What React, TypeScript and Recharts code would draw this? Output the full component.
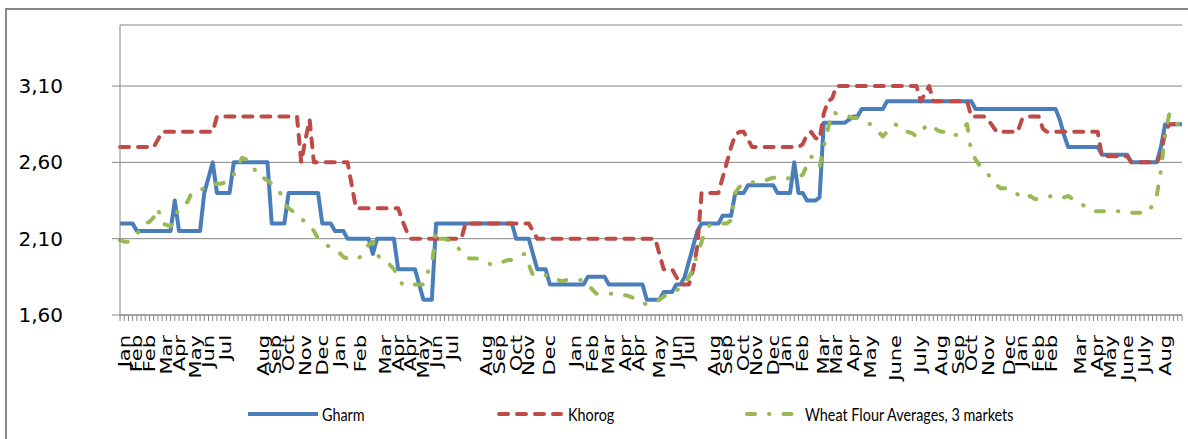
import React from "react";
import { LineChart, Line, XAxis, YAxis, CartesianGrid } from "recharts";

// Gharm weekly price, as [value, number of weeks at that value]
const gharmRuns: [number, number][] = [
  [2.2, 4], [2.15, 9], [2.35, 1], [2.15, 6], [2.4, 1], [2.5, 1], [2.6, 1], [2.4, 4],
  [2.6, 9], [2.2, 4], [2.4, 8], [2.2, 3], [2.15, 3], [2.1, 6], [2.0, 1], [2.1, 5],
  [1.9, 5], [1.8, 1], [1.7, 3], [2.2, 19], [2.1, 4], [2.0, 1], [1.9, 3], [1.8, 9],
  [1.85, 5], [1.8, 9], [1.7, 4], [1.75, 3], [1.8, 2], [1.85, 1], [1.95, 1], [2.05, 1],
  [2.15, 1], [2.2, 5], [2.25, 3], [2.4, 3], [2.45, 7], [2.4, 4], [2.6, 1], [2.4, 2],
  [2.35, 3], [2.37, 1], [2.86, 6], [2.88, 1], [2.9, 2], [2.95, 6], [3.0, 21], [2.95, 20],
  [2.88, 1], [2.78, 1], [2.7, 8], [2.65, 7], [2.6, 7], [2.7, 1], [2.85, 5],
];

// Khorog weekly price, as [value, number of weeks at that value]
const khorogRuns: [number, number][] = [
  [2.7, 9], [2.75, 1], [2.8, 13], [2.9, 20], [2.6, 1], [2.75, 1], [2.88, 1], [2.6, 9],
  [2.45, 1], [2.3, 11], [2.22, 1], [2.15, 1], [2.1, 13], [2.2, 16], [2.15, 1], [2.1, 29],
  [2.0, 1], [1.9, 3], [1.85, 1], [1.8, 3], [1.9, 1], [2.05, 1], [2.4, 5], [2.5, 1],
  [2.6, 1], [2.7, 1], [2.78, 1], [2.8, 2], [2.75, 1], [2.7, 12], [2.72, 1], [2.78, 1],
  [2.8, 1], [2.76, 1], [2.75, 1], [2.92, 1], [3.0, 1], [3.02, 1], [3.1, 20], [3.0, 1],
  [3.05, 1], [3.1, 1], [3.0, 9], [2.9, 4], [2.88, 1], [2.84, 1], [2.8, 6], [2.88, 1],
  [2.9, 4], [2.82, 1], [2.8, 13], [2.64, 7], [2.6, 7], [2.65, 1], [2.8, 1], [2.85, 4],
];

// Wheat flour average of 3 markets, weekly
const wheatFlour: number[] = [
  2.09, 2.08, 2.08, 2.1, 2.13, 2.17, 2.2, 2.21, 2.24, 2.3,
  2.2, 2.19, 2.18, 2.24, 2.3, 2.33, 2.34, 2.4, 2.41, 2.42,
  2.43, 2.44, 2.45, 2.46, 2.46, 2.47, 2.48, 2.52, 2.58, 2.63,
  2.62, 2.6, 2.55, 2.5, 2.5, 2.48, 2.46, 2.44, 2.4, 2.33,
  2.3, 2.28, 2.26, 2.23, 2.21, 2.19, 2.15, 2.1, 2.08, 2.06,
  2.04, 2.03, 2.01, 1.98, 1.97, 1.96, 1.97, 1.98, 2.02, 2.06,
  2.08, 2.0, 1.96, 1.95, 1.93, 1.9, 1.85, 1.8, 1.79, 1.79,
  1.8, 1.8, 1.8, 1.88, 1.93, 2.15, 2.1, 2.1, 2.09, 2.08,
  2.05, 2.01, 1.98, 1.97, 1.97, 1.97, 1.96, 1.95, 1.93, 1.93,
  1.94, 1.95, 1.96, 1.96, 1.97, 1.99, 2.0, 1.93, 1.86, 1.86,
  1.86, 1.86, 1.86, 1.85, 1.83, 1.82, 1.83, 1.83, 1.83, 1.83,
  1.83, 1.8, 1.77, 1.74, 1.74, 1.74, 1.74, 1.74, 1.73, 1.73,
  1.73, 1.72, 1.71, 1.7, 1.68, 1.67, 1.67, 1.68, 1.7, 1.72,
  1.74, 1.75, 1.76, 1.78, 1.81, 1.85, 1.9, 2.0, 2.08, 2.16,
  2.19, 2.2, 2.2, 2.2, 2.2, 2.22, 2.4, 2.44, 2.46, 2.47,
  2.47, 2.47, 2.48, 2.48, 2.49, 2.5, 2.5, 2.49, 2.49, 2.5,
  2.5, 2.5, 2.52, 2.58, 2.64, 2.6, 2.57, 2.7, 2.82, 2.93,
  2.92, 2.92, 2.91, 2.9, 2.89, 2.89, 2.88, 2.87, 2.85, 2.82,
  2.8, 2.77, 2.8, 2.83, 2.85, 2.82, 2.8, 2.8, 2.79, 2.77,
  2.8, 2.83, 2.85, 2.83, 2.81, 2.8, 2.8, 2.78, 2.77, 2.8,
  2.83, 2.85, 2.67, 2.62, 2.58, 2.55, 2.52, 2.49, 2.45, 2.43,
  2.43, 2.43, 2.41, 2.39, 2.37, 2.36, 2.38, 2.36, 2.36, 2.37,
  2.37, 2.38, 2.38, 2.38, 2.37, 2.38, 2.36, 2.34, 2.33, 2.31,
  2.29, 2.28, 2.28, 2.28, 2.28, 2.28, 2.28, 2.28, 2.28, 2.27,
  2.27, 2.27, 2.27, 2.27, 2.27, 2.32, 2.38, 2.55, 2.78, 2.92,
  2.88, 2.85, 2.85,
];

// Month labels on the category axis: [week index, label]
const monthTicks: [number, string][] = [
  [1, "Jan"], [4, "Feb"], [7, "Feb"], [11, "Mar"], [14, "Apr"], [18, "May"], [21, "Jun"],
  [25, "Jul"], [34, "Aug"], [37, "Sep"], [40, "Oct"], [44, "Nov"], [48, "Dec"],
  [52, "Jan"], [57, "Feb"], [63, "Mar"], [66, "Apr"], [69, "Apr"], [72, "May"], [75, "Jun"],
  [79, "Jul"], [87, "Aug"], [90, "Sep"], [94, "Oct"], [97, "Nov"], [102, "Dec"],
  [108, "Jan"], [112, "Feb"], [116, "Mar"], [120, "Apr"], [123, "Apr"], [128, "May"],
  [132, "Jun"], [135, "Jul"], [141, "Aug"], [144, "Sep"], [148, "Oct"], [151, "Nov"],
  [155, "Dec"], [158, "Jan"], [162, "Feb"], [167, "Mar"], [170, "Mar"], [174, "Apr"],
  [178, "May"], [184, "June"], [190, "July"], [195, "Aug"], [199, "Sep"], [202, "Oct"],
  [206, "Nov"], [211, "Dec"], [214, "Jan"], [218, "Feb"], [221, "Feb"], [228, "Mar"],
  [232, "Apr"], [235, "May"], [239, "June"], [243, "July"], [248, "Aug"],
];

const yTicks = [1.6, 2.1, 2.6, 3.1];
const seriesNames = ["Gharm", "Khorog", "Wheat Flour Averages, 3 markets"];

const expand = (runs: [number, number][]) => {
  const out: number[] = [];
  runs.forEach(([v, n]) => {
    for (let k = 0; k < n; k++) out.push(v);
  });
  return out;
};
const gharm = expand(gharmRuns);
const khorog = expand(khorogRuns);
const labelByIndex = new Map<number, string>(monthTicks);
const data = wheatFlour.map((w, i) => ({ i, gharm: gharm[i], khorog: khorog[i], wheat: w }));

const AXIS = "#868686";
const BLUE = "#4A7EBB";
const RED = "#BE4B48";
const GREEN = "#98B954";
const RED_DASH = "9 9";
const GREEN_DASH = "8 14 0.5 14";

const MonthTick = (props: any) => {
  const { x, y, payload } = props;
  const t = labelByIndex.get(payload.value);
  if (!t) return <g />;
  return (
    <text
      transform={`translate(${x},${y + 12}) rotate(-90) scale(1, 0.75)`}
      textAnchor="end"
      dominantBaseline="central"
      fontFamily="DejaVu Sans"
      fontSize={21}
      fill="#000"
    >
      {t}
    </text>
  );
};

const PriceTick = (props: any) => {
  const { x, y, payload } = props;
  return (
    <text
      x={x - 47}
      y={y}
      textAnchor="end"
      dominantBaseline="central"
      fontFamily="DejaVu Sans"
      fontSize={20}
      fill="#000"
    >
      {Number(payload.value).toFixed(2).replace(".", ",")}
    </text>
  );
};

const LegendLabel = ({ x, text }: { x: number; text: string }) => (
  <text
    transform={`translate(${x},19) scale(0.8,1)`}
    dominantBaseline="central"
    fontFamily="Lato"
    fontSize={18}
    fill="#000"
  >
    {text}
  </text>
);

export default function App() {
  return (
    <div
      style={{
        position: "absolute",
        left: 0,
        top: 0,
        width: 1188,
        height: 439,
        overflow: "hidden",
        background: "#fff",
      }}
    >
      <div
        style={{
          position: "absolute",
          left: 5,
          top: 8,
          width: 1300,
          height: 500,
          border: `2px solid ${AXIS}`,
        }}
      />
      <div style={{ position: "absolute", left: 0, top: 0 }}>
        <LineChart
          width={1188}
          height={439}
          data={data}
          margin={{ top: 25, right: 6, bottom: 44, left: 8 }}
        >
          <CartesianGrid vertical={false} stroke={AXIS} strokeWidth={1} />
          <XAxis
            dataKey="i"
            type="category"
            interval={0}
            tickSize={6}
            height={80}
            axisLine={{ stroke: AXIS }}
            tickLine={{ stroke: AXIS }}
            tick={MonthTick}
          />
          <YAxis
            type="number"
            domain={[1.6, 3.5]}
            ticks={yTicks}
            width={112}
            tickSize={8}
            allowDataOverflow
            axisLine={{ stroke: AXIS }}
            tickLine={{ stroke: AXIS }}
            tick={PriceTick}
          />
          <Line
            type="linear"
            dataKey="gharm"
            name={seriesNames[0]}
            stroke={BLUE}
            strokeWidth={4}
            strokeLinejoin="round"
            dot={false}
            isAnimationActive={false}
          />
          <Line
            type="linear"
            dataKey="khorog"
            name={seriesNames[1]}
            stroke={RED}
            strokeWidth={4}
            strokeDasharray={RED_DASH}
            strokeLinecap="round"
            strokeLinejoin="round"
            dot={false}
            isAnimationActive={false}
          />
          <Line
            type="linear"
            dataKey="wheat"
            name={seriesNames[2]}
            stroke={GREEN}
            strokeWidth={4}
            strokeDasharray={GREEN_DASH}
            strokeLinecap="round"
            strokeLinejoin="round"
            dot={false}
            isAnimationActive={false}
          />
        </LineChart>
      </div>
      <svg
        width={1188}
        height={40}
        style={{ position: "absolute", left: 0, top: 395 }}
      >
        <line x1={248} y1={19} x2={318} y2={19} stroke={BLUE} strokeWidth={4} />
        <LegendLabel x={322} text={seriesNames[0]} />
        <line
          x1={499}
          y1={19}
          x2={561}
          y2={19}
          stroke={RED}
          strokeWidth={4}
          strokeDasharray={RED_DASH}
          strokeLinecap="round"
        />
        <LegendLabel x={568} text={seriesNames[1]} />
        <line
          x1={747}
          y1={19}
          x2={797}
          y2={19}
          stroke={GREEN}
          strokeWidth={4}
          strokeDasharray={GREEN_DASH}
          strokeLinecap="round"
        />
        <LegendLabel x={805} text={seriesNames[2]} />
      </svg>
    </div>
  );
}
